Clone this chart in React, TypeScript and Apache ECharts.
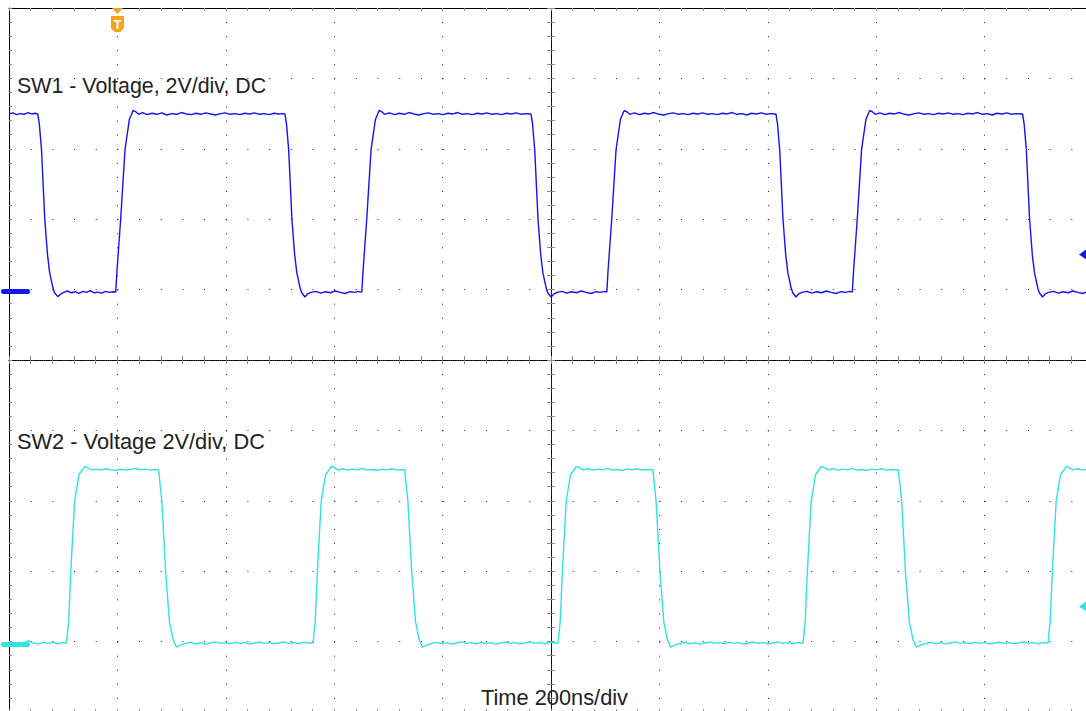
import React, { useEffect, useRef } from "react";
import * as echarts from "echarts";

// Time axis (ns), 200 ns/div, 10 divisions
const timeMin = -1000;
const timeMax = 1000;
const timeStep = 200;
// SW1 channel: 2 V/div, ground one division above centre
const sw1Min = -12;
const sw1Max = 8;
// SW2 channel: 2 V/div, ground four divisions below centre
const sw2Min = -2;
const sw2Max = 18;
const voltStep = 2;

const sw1Label = "SW1 - Voltage, 2V/div, DC";
const sw2Label = "SW2 - Voltage 2V/div, DC";
const timeLabel = "Time 200ns/div";
const triggerTime = -800;
const triggerLevelSW1 = 1;
const triggerLevelSW2 = 1;

const sw1: [number, number][] = [
  [-1000, 4.99], [-993, 5.02], [-986, 4.97], [-979, 5.0], [-972, 4.98], [-965, 5.03], [-958, 4.99], [-952, 5.01],
  [-947, 4.99], [-944, 4.7], [-940, 3.97], [-934, 2.0], [-929, 1.0], [-925, 0.48], [-919, 0.05], [-916, -0.09], [-910, -0.2], [-905, -0.13], [-899, -0.08],
  [-892, -0.04], [-885, -0.09], [-878, -0.06], [-871, -0.11], [-864, -0.05], [-857, -0.08], [-850, -0.03], [-843, -0.09], [-836, -0.07], [-829, -0.1], [-822, -0.05], [-815, -0.08], [-808, -0.06],
  [-803, -0.07], [-801, 0.48], [-794, 1.99], [-786, 3.97], [-778, 4.83], [-771, 5.09], [-766, 5.05], [-761, 4.98],
  [-754, 5.03], [-745, 4.97], [-736, 5.01], [-727, 4.98], [-718, 5.02], [-709, 4.96], [-700, 5.0], [-691, 4.98], [-682, 5.03], [-673, 4.99], [-664, 4.97], [-655, 5.01], [-646, 4.98], [-637, 5.02], [-628, 4.99], [-619, 4.96], [-610, 5.0], [-601, 5.02], [-592, 4.98], [-583, 5.0], [-574, 4.97], [-565, 5.01], [-556, 4.99], [-547, 5.02], [-538, 4.98], [-529, 5.0], [-520, 4.97], [-511, 5.01], [-502, 4.99], [-496, 5.0],
  [-491, 4.99], [-488, 4.7], [-484, 3.97], [-478, 2.0], [-473, 1.0], [-469, 0.48], [-463, 0.05], [-460, -0.09], [-454, -0.21], [-449, -0.12], [-443, -0.08],
  [-434, -0.05], [-425, -0.1], [-416, -0.06], [-407, -0.09], [-398, -0.04], [-389, -0.08], [-380, -0.11], [-371, -0.06], [-362, -0.08], [-355, -0.05],
  [-349, -0.07], [-347, 0.48], [-340, 1.99], [-332, 3.97], [-324, 4.83], [-317, 5.09], [-312, 5.05], [-307, 4.98],
  [-298, 5.02], [-289, 4.97], [-280, 5.01], [-271, 4.98], [-262, 5.03], [-253, 4.99], [-244, 4.96], [-235, 5.0], [-226, 5.02], [-217, 4.98], [-208, 5.0], [-199, 4.97], [-190, 5.01], [-181, 4.99], [-172, 5.03], [-163, 4.98], [-154, 5.0], [-145, 4.97], [-136, 5.01], [-127, 4.99], [-118, 5.02], [-109, 4.98], [-100, 5.0], [-91, 4.97], [-82, 5.01], [-73, 4.99], [-64, 5.02], [-55, 4.98], [-46, 5.0], [-41, 4.99],
  [-37, 4.99], [-34, 4.7], [-30, 3.97], [-24, 2.0], [-19, 1.0], [-15, 0.48], [-9, 0.05], [-6, -0.09], [0, -0.21], [5, -0.13], [11, -0.08],
  [20, -0.05], [29, -0.1], [38, -0.06], [47, -0.09], [56, -0.04], [65, -0.08], [74, -0.11], [83, -0.06], [92, -0.08], [98, -0.05],
  [103, -0.07], [105, 0.48], [112, 1.99], [120, 3.97], [128, 4.83], [135, 5.09], [140, 5.05], [145, 4.98],
  [154, 5.02], [163, 4.97], [172, 5.01], [181, 4.99], [190, 5.03], [199, 4.98], [208, 4.96], [217, 5.0], [226, 5.02], [235, 4.98], [244, 5.0], [253, 4.97], [262, 5.01], [271, 4.99], [280, 5.02], [289, 4.98], [298, 5.0], [307, 4.97], [316, 5.01], [325, 4.99], [334, 5.03], [343, 4.98], [352, 5.0], [361, 4.96], [370, 5.01], [379, 4.99], [388, 5.02], [397, 4.98], [406, 5.0], [411, 4.99],
  [415, 4.99], [418, 4.7], [422, 3.97], [428, 2.0], [433, 1.0], [437, 0.48], [443, 0.05], [446, -0.09], [452, -0.21], [457, -0.12], [463, -0.08],
  [472, -0.05], [481, -0.1], [490, -0.06], [499, -0.09], [508, -0.04], [517, -0.08], [526, -0.11], [535, -0.06], [544, -0.08], [551, -0.05],
  [556, -0.07], [558, 0.48], [565, 1.99], [573, 3.97], [581, 4.83], [588, 5.09], [593, 5.05], [598, 4.98],
  [607, 5.02], [616, 4.97], [625, 5.01], [634, 4.99], [643, 5.03], [652, 4.98], [661, 4.96], [670, 5.0], [679, 5.02], [688, 4.98], [697, 5.0], [706, 4.97], [715, 5.01], [724, 4.99], [733, 5.02], [742, 4.98], [751, 5.0], [760, 4.97], [769, 5.01], [778, 4.99], [787, 5.03], [796, 4.98], [805, 5.0], [814, 4.96], [823, 5.01], [832, 4.99], [841, 5.02], [850, 4.98], [859, 5.0], [866, 4.99],
  [870, 4.99], [873, 4.7], [877, 3.97], [883, 2.0], [888, 1.0], [892, 0.48], [898, 0.05], [901, -0.09], [907, -0.21], [912, -0.12], [918, -0.08],
  [927, -0.05], [936, -0.1], [945, -0.06], [954, -0.09], [963, -0.04], [972, -0.08], [981, -0.11], [990, -0.06], [1000, -0.08],
];

const sw2: [number, number][] = [
  [-1000, -0.03], [-991, -0.06], [-982, -0.02], [-973, -0.05], [-964, 0.03], [-955, -0.04], [-946, -0.07], [-937, -0.03], [-928, -0.05], [-919, -0.02], [-910, -0.06], [-901, -0.03],
  [-894, -0.04], [-890, 0.57], [-886, 1.99], [-879, 3.98], [-871, 4.74], [-860, 4.98], [-853, 4.93], [-848, 4.88],
  [-839, 4.9], [-830, 4.87], [-821, 4.91], [-812, 4.88], [-803, 4.86], [-794, 4.9], [-785, 4.87], [-776, 4.89], [-767, 4.92], [-758, 4.88], [-749, 4.9], [-740, 4.87], [-731, 4.89],
  [-724, 4.88], [-718, 3.98], [-711, 1.99], [-704, 0.57], [-697, 0.05], [-691, -0.16], [-686, -0.12], [-682, -0.09],
  [-673, -0.05], [-664, -0.02], [-655, -0.06], [-646, -0.03], [-637, -0.07], [-628, -0.04], [-619, -0.01], [-610, -0.05], [-601, -0.03], [-592, -0.06], [-583, -0.02], [-574, -0.05], [-565, -0.03], [-556, -0.07], [-547, -0.04], [-538, -0.02], [-529, -0.05], [-520, -0.03], [-511, -0.06], [-502, -0.04], [-493, -0.01], [-484, -0.05], [-475, -0.03], [-466, -0.06], [-457, -0.02], [-448, -0.04],
  [-439, -0.04], [-435, 0.57], [-431, 1.99], [-424, 3.98], [-416, 4.74], [-405, 4.98], [-398, 4.93], [-393, 4.88],
  [-384, 4.91], [-375, 4.87], [-366, 4.9], [-357, 4.88], [-348, 4.92], [-339, 4.87], [-330, 4.89], [-321, 4.86], [-312, 4.9], [-303, 4.88], [-294, 4.91], [-285, 4.87], [-277, 4.89],
  [-270, 4.88], [-264, 3.98], [-257, 1.99], [-250, 0.57], [-243, 0.05], [-237, -0.16], [-232, -0.12], [-228, -0.09],
  [-219, -0.05], [-210, -0.02], [-201, -0.06], [-192, -0.03], [-183, -0.07], [-174, -0.04], [-165, -0.01], [-156, -0.05], [-147, -0.03], [-138, -0.06], [-129, -0.02], [-120, -0.05], [-111, -0.03], [-102, -0.07], [-93, -0.04], [-84, -0.02], [-75, -0.05], [-66, -0.03], [-57, -0.06], [-48, -0.04], [-39, -0.01], [-30, -0.05], [-21, -0.03], [-12, -0.06], [-3, -0.02], [6, -0.04],
  [13, -0.04], [17, 0.57], [21, 1.99], [28, 3.98], [36, 4.74], [47, 4.98], [54, 4.93], [59, 4.88],
  [68, 4.91], [77, 4.87], [86, 4.9], [95, 4.88], [104, 4.92], [113, 4.87], [122, 4.89], [131, 4.86], [140, 4.9], [149, 4.88], [158, 4.91], [167, 4.87], [176, 4.89], [183, 4.88],
  [188, 4.88], [194, 3.98], [201, 1.99], [208, 0.57], [215, 0.05], [221, -0.16], [226, -0.12], [230, -0.09],
  [239, -0.05], [248, -0.02], [257, -0.06], [266, -0.03], [275, -0.07], [284, -0.04], [293, -0.01], [302, -0.05], [311, -0.03], [320, -0.06], [329, -0.02], [338, -0.05], [347, -0.03], [356, -0.07], [365, -0.04], [374, -0.02], [383, -0.05], [392, -0.03], [401, -0.06], [410, -0.04], [419, -0.01], [428, -0.05], [437, -0.03], [446, -0.06], [455, -0.02], [460, -0.04],
  [465, -0.04], [469, 0.57], [473, 1.99], [480, 3.98], [488, 4.74], [499, 4.98], [506, 4.93], [511, 4.88],
  [520, 4.91], [529, 4.87], [538, 4.9], [547, 4.88], [556, 4.92], [565, 4.87], [574, 4.89], [583, 4.86], [592, 4.9], [601, 4.88], [610, 4.91], [619, 4.87], [628, 4.89], [636, 4.88],
  [641, 4.88], [647, 3.98], [654, 1.99], [661, 0.57], [668, 0.05], [674, -0.16], [679, -0.12], [683, -0.09],
  [692, -0.05], [701, -0.02], [710, -0.06], [719, -0.03], [728, -0.07], [737, -0.04], [746, -0.01], [755, -0.05], [764, -0.03], [773, -0.06], [782, -0.02], [791, -0.05], [800, -0.03], [809, -0.07], [818, -0.04], [827, -0.02], [836, -0.05], [845, -0.03], [854, -0.06], [863, -0.04], [872, -0.01], [881, -0.05], [890, -0.03], [899, -0.06], [908, -0.02], [913, -0.04],
  [917, -0.04], [921, 0.57], [925, 1.99], [932, 3.98], [940, 4.74], [951, 4.98], [958, 4.93], [963, 4.88],
  [972, 4.91], [981, 4.87], [990, 4.9], [1000, 4.88],
];

const SW1_COLOR = "#1414ee";
const SW2_COLOR = "#30e2e2";
const TRIG_COLOR = "#f5a21c";
const FONT = "'Liberation Sans', Arial, sans-serif";

export default function App() {
  const ref = useRef<HTMLDivElement>(null);
  useEffect(() => {
    const el = ref.current as HTMLDivElement;
    const chart = echarts.init(el, null, { renderer: "svg" });
    const dotColor = "#1e1e1e";
    const tickColor = "#8c8c8c";
    const hidden = { show: false };

    const borderAxis = (pos: string, extra: any) => ({
      type: "value",
      position: pos,
      axisLabel: hidden,
      splitLine: hidden,
      axisLine: { show: true, onZero: false, lineStyle: { color: "#000", width: 1 } },
      axisTick: { show: true, inside: true, length: 3, lineStyle: { color: tickColor } },
      minorTick: { show: true, splitNumber: 5, length: 3, lineStyle: { color: tickColor } },
      ...extra,
    });
    const centerAxis = (pos: string, inside: boolean, extra: any) => ({
      type: "value",
      position: pos,
      axisLabel: hidden,
      splitLine: hidden,
      axisTick: { show: true, inside, length: 4, lineStyle: { color: tickColor } },
      minorTick: { show: true, splitNumber: 5, length: 4, lineStyle: { color: tickColor } },
      ...extra,
    });
    const centerLine = (idx: number) => ({
      show: true, onZero: true, onZeroAxisIndex: idx,
      lineStyle: { color: "#000", width: 1, type: [1, 1.2] },
    });

    chart.setOption({
      animation: false,
      backgroundColor: "#ffffff",
      grid: { left: 9, top: 8, width: 1084, height: 704, outerBoundsMode: "none", containLabel: false, show: false },
      xAxis: [
        borderAxis("bottom", {
          min: timeMin, max: timeMax, interval: timeStep,
          splitLine: { show: true, lineStyle: { color: dotColor, width: 1, type: [1, 13.08] } },
        }),
        borderAxis("top", { min: timeMin, max: timeMax, interval: timeStep }),
        centerAxis("bottom", false, { min: timeMin, max: timeMax, interval: timeStep, axisLine: centerLine(2) }),
        centerAxis("bottom", true, { min: timeMin, max: timeMax, interval: timeStep, axisLine: centerLine(2) }),
      ],
      yAxis: [
        borderAxis("left", {
          min: sw1Min, max: sw1Max, interval: voltStep,
          splitLine: { show: true, lineStyle: { color: dotColor, width: 1, type: [1, 20.68] } },
        }),
        borderAxis("right", { min: sw2Min, max: sw2Max, interval: voltStep }),
        centerAxis("left", false, { min: -5, max: 5, interval: 1, axisLine: centerLine(0) }),
        centerAxis("left", true, { min: -5, max: 5, interval: 1, axisLine: centerLine(0) }),
      ],
      series: [
        {
          name: "SW1", type: "line", xAxisIndex: 0, yAxisIndex: 0, data: sw1,
          showSymbol: false, symbol: "none", silent: true, z: 5,
          lineStyle: { color: SW1_COLOR, width: 1.4 },
        },
        {
          name: "SW2", type: "line", xAxisIndex: 0, yAxisIndex: 1, data: sw2,
          showSymbol: false, symbol: "none", silent: true, z: 4,
          lineStyle: { color: SW2_COLOR, width: 1.4 },
        },
      ],
    });

    const px = (si: number, t: number, v: number) =>
      chart.convertToPixel({ seriesIndex: si }, [t, v]) as number[];
    const g1 = px(0, 0, 0);
    const g2 = px(1, 0, 0);
    const top = px(0, 0, sw1Max)[1];
    const tx = px(0, triggerTime, 0)[0];
    const l1 = px(0, 0, triggerLevelSW1)[1];
    const l2 = px(1, 0, triggerLevelSW2)[1];
    const W = el.clientWidth;

    const textStyle = { fontFamily: FONT, fill: "#222", align: "left", verticalAlign: "middle" };
    chart.setOption({
      graphic: [
        { type: "text", x: 17, y: 85.5, z: 10, style: { ...textStyle, fontSize: 21.4, text: sw1Label } },
        { type: "text", x: 17, y: 441.5, z: 10, style: { ...textStyle, fontSize: 21.8, text: sw2Label } },
        { type: "text", x: 481, y: 697.5, z: 10, style: { ...textStyle, fontSize: 21.8, text: timeLabel } },
        { type: "polygon", z: 10, shape: { points: [[tx - 5.5, top], [tx + 5.5, top], [tx, top + 6]] }, style: { fill: TRIG_COLOR } },
        {
          type: "polygon", z: 10,
          shape: { points: [[tx - 6.5, top + 8], [tx + 6.5, top + 8], [tx + 6.5, top + 20], [tx + 3, top + 24], [tx - 3, top + 24], [tx - 6.5, top + 20]] },
          style: { fill: TRIG_COLOR },
        },
        { type: "text", x: tx, y: top + 16, z: 11, style: { text: "T", fontSize: 13, fontWeight: "bold", fontFamily: FONT, fill: "#fff", align: "center", verticalAlign: "middle" } },
        { type: "rect", z: 10, shape: { x: 1, y: g1[1] - 0.5, width: 29, height: 5, r: 2.5 }, style: { fill: SW1_COLOR } },
        { type: "rect", z: 10, shape: { x: 1, y: g2[1] + 0.5, width: 29, height: 5, r: 2.5 }, style: { fill: SW2_COLOR } },
        { type: "polygon", z: 10, shape: { points: [[W - 7, l1], [W + 1, l1 - 5.5], [W + 1, l1 + 5.5]] }, style: { fill: SW1_COLOR } },
        { type: "polygon", z: 10, shape: { points: [[W - 7, l2], [W + 1, l2 - 5.5], [W + 1, l2 + 5.5]] }, style: { fill: SW2_COLOR } },
      ],
    });

    return () => chart.dispose();
  }, []);

  return (
    <div
      ref={ref}
      style={{ position: "fixed", left: 0, top: 0, width: 1086, height: 711, background: "#fff" }}
    />
  );
}
